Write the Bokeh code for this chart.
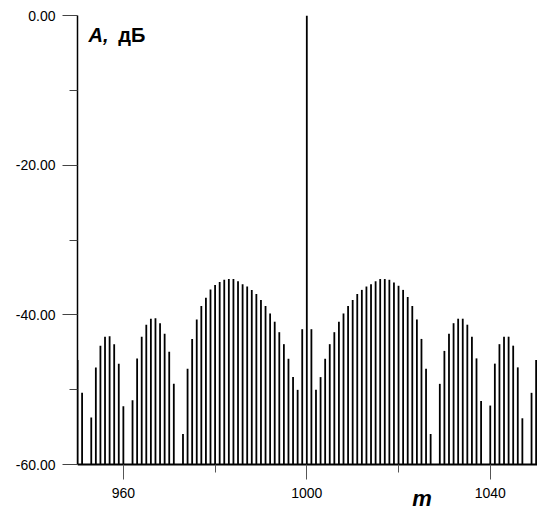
from bokeh.plotting import figure
from bokeh.models import Range1d, FixedTicker, Label
from bokeh.embed import file_html
from bokeh.resources import INLINE

# harmonic numbers and their levels in dB (nulls clipped to the -60 dB floor)
m = list(range(950, 1051))
level_db = [
    -46.0, -50.4, -60.0, -53.7, -47.0, -44.1, -42.9, -42.85, -43.9, -46.5,
    -52.2, -60.0, -51.4, -45.8, -42.9, -41.3, -40.5, -40.45, -41.1, -42.5,
    -44.9, -49.2, -60.0, -55.9, -47.2, -43.2, -40.6, -38.8, -37.7, -36.6,
    -36.0, -35.6, -35.3, -35.2, -35.2, -35.5, -35.9, -36.2, -36.65, -37.2,
    -38.0, -38.8, -39.8, -40.9, -42.3, -43.9, -45.85, -48.3, -50.0, -41.9,
    0.0,
    -41.9, -50.0, -48.3, -45.85, -43.9, -42.3, -40.9, -39.8, -38.8, -38.0,
    -37.2, -36.65, -36.2, -35.9, -35.5, -35.2, -35.2, -35.3, -35.65, -36.1,
    -36.65, -37.6, -38.8, -40.6, -43.2, -47.2, -55.9, -60.0, -49.2, -44.8,
    -42.5, -41.1, -40.5, -40.5, -41.3, -42.9, -45.8, -51.5, -60.0, -52.1,
    -46.5, -43.9, -42.9, -42.9, -44.1, -47.0, -53.8, -60.0, -50.4, -46.0,
]
floor_db = -60.0

y_major = [-60, -40, -20, 0]
y_minor = [-50, -30, -10]
x_major = [960, 1000, 1040]
x_minor = [980, 1020]

FONT = "Liberation Sans"

# the frame runs down to the bottom of the page so that the "m" title
# beneath the axis is drawn inside it; the x axis sits at the -60 dB floor
p = figure(
    width=537, height=508,
    x_range=Range1d(950, 1050.3), y_range=Range1d(-65.85, 0),
    output_backend="svg", toolbar_location=None,
    min_border_left=77, min_border_right=0,
    min_border_top=15, min_border_bottom=0,
)
p.xgrid.visible = False
p.ygrid.visible = False
p.outline_line_color = None
p.background_fill_color = "white"
p.border_fill_color = "white"

# spectral lines rising from the floor
p.segment(x0=m, y0=[floor_db] * len(m), x1=m, y1=level_db,
          line_color="black", line_width=1.8)

# vertical axis
ya = p.yaxis[0]
ya.bounds = (floor_db, 0)
ya.ticker = FixedTicker(ticks=y_major, minor_ticks=y_minor)
ya.major_label_overrides = {v: f"{v:.2f}" for v in y_major}
ya.axis_line_color = "black"
ya.axis_line_width = 1.5
ya.major_tick_out = 15
ya.major_tick_in = 0
ya.minor_tick_out = 8
ya.minor_tick_in = 0
ya.major_tick_line_color = "#444444"
ya.minor_tick_line_color = "#444444"
ya.major_label_standoff = 7
ya.major_label_text_font = FONT
ya.major_label_text_font_size = "14px"
ya.major_label_text_color = "black"

# horizontal axis
xa = p.xaxis[0]
xa.fixed_location = floor_db
xa.ticker = FixedTicker(ticks=x_major, minor_ticks=x_minor)
xa.major_label_overrides = {v: str(v) for v in x_major}
xa.axis_line_color = "black"
xa.axis_line_width = 2
xa.major_tick_out = 15
xa.major_tick_in = 0
xa.minor_tick_out = 8
xa.minor_tick_in = 0
xa.major_tick_line_color = "#555555"
xa.minor_tick_line_color = "#555555"
xa.major_label_standoff = 8
xa.major_label_text_font = FONT
xa.major_label_text_font_size = "14px"
xa.major_label_text_color = "black"

# axis titles
p.add_layout(Label(x=952.4, y=-2.6, text="A,", text_font=FONT,
                   text_font_size="20px", text_font_style="bold italic",
                   text_baseline="alphabetic", text_color="black"))
p.add_layout(Label(x=958.9, y=-2.6, text="дБ", text_font=FONT,
                   text_font_size="20px", text_font_style="bold",
                   text_baseline="alphabetic", text_color="black"))
p.add_layout(Label(x=1023.0, y=-64.5, text="m", text_font=FONT,
                   text_font_size="22px", text_font_style="bold italic",
                   text_baseline="alphabetic", text_color="black"))

open("out.html", "w").write(file_html(p, INLINE))
